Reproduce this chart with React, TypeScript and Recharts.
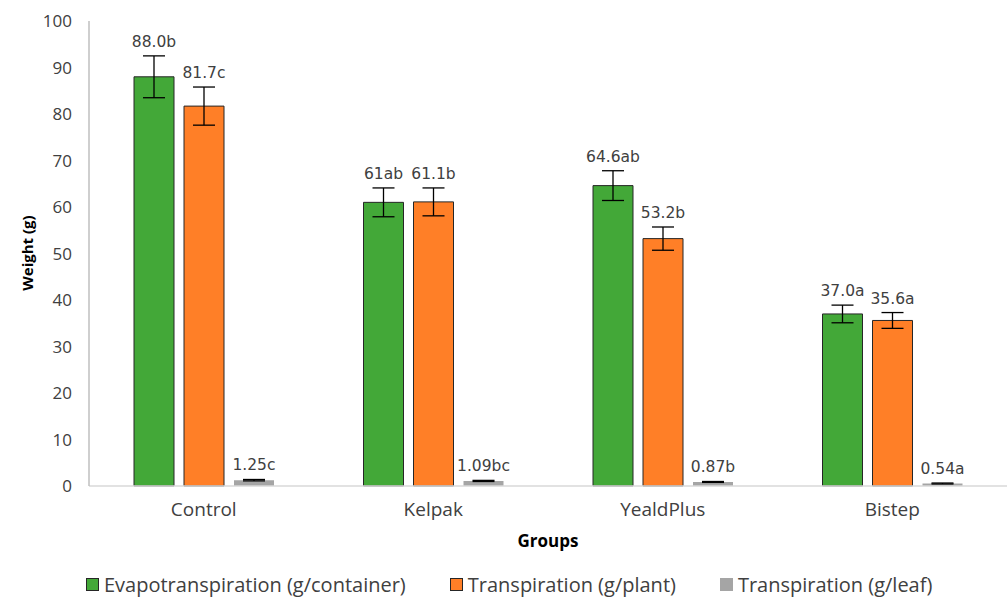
import React from 'react';
import { BarChart, Bar, XAxis, YAxis, ErrorBar, LabelList, Legend } from 'recharts';

const categories = ['Control', 'Kelpak', 'YealdPlus', 'Bistep'];
const evapo = [88.0, 61.0, 64.6, 37.0];
const transPlant = [81.7, 61.1, 53.2, 35.6];
const transLeaf = [1.25, 1.09, 0.87, 0.54];
const evapoErr = [4.5, 3.1, 3.2, 1.9];
const plantErr = [4.1, 3.0, 2.5, 1.7];
const leafErr = [0.15, 0.12, 0.1, 0.1];
const evapoLabels = ['88.0b', '61ab', '64.6ab', '37.0a'];
const plantLabels = ['81.7c', '61.1b', '53.2b', '35.6a'];
const leafLabels = ['1.25c', '1.09bc', '0.87b', '0.54a'];
const yTicks = [0, 10, 20, 30, 40, 50, 60, 70, 80, 90, 100];

const seriesNames = [
  'Evapotranspiration (g/container)',
  'Transpiration (g/plant)',
  'Transpiration (g/leaf)',
];
const colors = ['#43a838', '#ff7f27', '#a5a5a5'];

const data = categories.map((name, i) => ({
  name,
  evapo: evapo[i],
  transPlant: transPlant[i],
  transLeaf: transLeaf[i],
  evapoErr: evapoErr[i],
  plantErr: plantErr[i],
  leafErr: leafErr[i],
}));

const TEXT = '#404040';

const makeLabel = (labels: string[], values: number[], errs: number[]) => (props: any) => {
  const { x, y, width, height, index } = props;
  const v = values[index];
  const pxPerUnit = v > 0 ? Math.abs(height) / v : 0;
  const top = y - errs[index] * pxPerUnit;
  return (
    <text
      x={x + width / 2}
      y={top - 9}
      textAnchor="middle"
      fontFamily="DejaVu Sans, Verdana, sans-serif"
      fontSize={15.5}
      fill={TEXT}
    >
      {labels[index]}
    </text>
  );
};

const LegendContent = () => (
  <div
    style={{
      display: 'flex',
      alignItems: 'center',
      fontFamily: 'Open Sans, sans-serif',
      fontSize: 20,
      color: TEXT,
      whiteSpace: 'nowrap',
    }}
  >
    {seriesNames.map((n, i) => (
      <div key={n} style={{ display: 'flex', alignItems: 'center', marginRight: i < 2 ? 44 : 0 }}>
        <span
          style={{
            display: 'inline-block',
            width: 11,
            height: 11,
            background: colors[i],
            border: i < 2 ? '1px solid #262626' : '1px solid ' + colors[i],
            marginRight: 5,
          }}
        />
        <span>{n}</span>
      </div>
    ))}
  </div>
);

const YLabel = () => (
  <text
    x={27}
    y={253}
    transform="rotate(-90, 27, 253)"
    textAnchor="middle"
    dominantBaseline="central"
    fontFamily="Open Sans, sans-serif"
    fontWeight="bold"
    fontSize={15}
    fill="#000"
  >
    Weight (g)
  </text>
);

const XLabel = (props: any) => {
  const { viewBox } = props;
  const cx = viewBox.x + viewBox.width / 2;
  return (
    <text
      x={cx}
      y={540}
      textAnchor="middle"
      dominantBaseline="central"
      fontFamily="Open Sans, sans-serif"
      fontWeight="bold"
      fontSize={17}
      fill="#000"
    >
      Groups
    </text>
  );
};

export default function App() {
  return (
    <div style={{ position: 'absolute', left: 0, top: 0, background: '#fff' }}>
      <BarChart
        width={1008}
        height={597}
        data={data}
        margin={{ top: 21, right: 1, bottom: 0, left: 0 }}
        barCategoryGap={45}
        barGap={10}
      >
        <XAxis
          dataKey="name"
          height={111}
          tickLine={false}
          axisLine={{ stroke: '#d9d9d9', strokeWidth: 1.5 }}
          tick={{ fontFamily: 'Open Sans, sans-serif', fontSize: 19, fill: TEXT }}
          tickMargin={11}
          label={<XLabel />}
        />
        <XAxis
          xAxisId="top"
          dataKey="name"
          orientation="top"
          height={0}
          tick={false}
          tickLine={false}
          axisLine={{ stroke: '#bfbfbf', strokeWidth: 1.5 }}
        />
        <YAxis
          width={89}
          domain={[0, 100]}
          ticks={yTicks}
          interval={0}
          tickLine={false}
          axisLine={{ stroke: '#bfbfbf', strokeWidth: 1.5 }}
          tick={{ fontFamily: 'Open Sans, sans-serif', fontSize: 17, fill: TEXT }}
          tickMargin={11}
          label={<YLabel />}
        />
        <YAxis
          yAxisId="right"
          orientation="right"
          width={0}
          domain={[0, 100]}
          type="number"
          tick={false}
          tickLine={false}
          axisLine={{ stroke: '#bfbfbf', strokeWidth: 1.5 }}
        />
        <Legend
          verticalAlign="middle"
          layout="horizontal"
          content={<LegendContent />}
          wrapperStyle={{ top: 571, left: 86, width: 'auto' }}
        />
        <Bar dataKey="evapo" name={seriesNames[0]} fill={colors[0]} stroke="#262626" strokeWidth={1} isAnimationActive={false}>
          <ErrorBar dataKey="evapoErr" width={11} stroke="#000" strokeWidth={1.3} direction="y" />
          <LabelList dataKey="evapo" content={makeLabel(evapoLabels, evapo, evapoErr)} />
        </Bar>
        <Bar dataKey="transPlant" name={seriesNames[1]} fill={colors[1]} stroke="#262626" strokeWidth={1} isAnimationActive={false}>
          <ErrorBar dataKey="plantErr" width={11} stroke="#000" strokeWidth={1.3} direction="y" />
          <LabelList dataKey="transPlant" content={makeLabel(plantLabels, transPlant, plantErr)} />
        </Bar>
        <Bar dataKey="transLeaf" name={seriesNames[2]} fill={colors[2]} isAnimationActive={false}>
          <ErrorBar dataKey="leafErr" width={11} stroke="#000" strokeWidth={1.3} direction="y" />
          <LabelList dataKey="transLeaf" content={makeLabel(leafLabels, transLeaf, leafErr)} />
        </Bar>
      </BarChart>
    </div>
  );
}
